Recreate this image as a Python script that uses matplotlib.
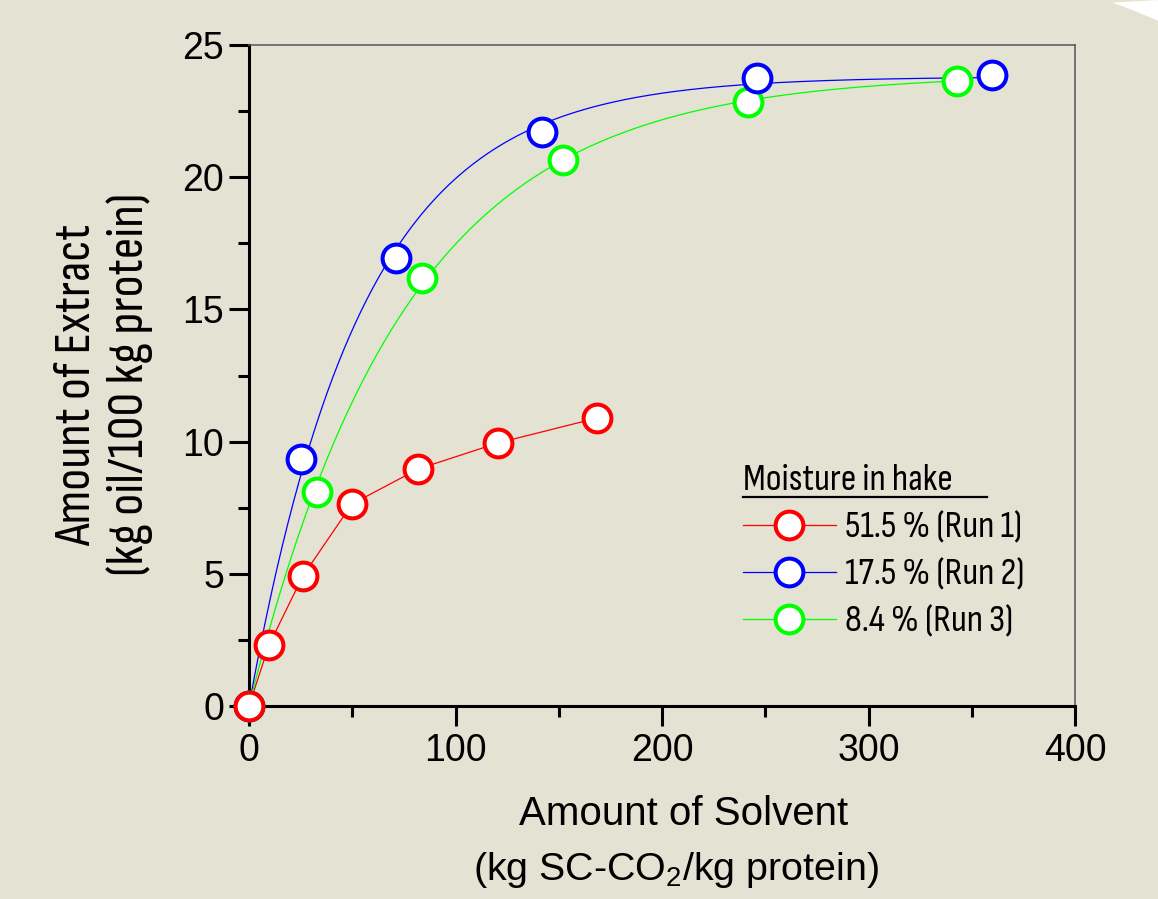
import numpy as np
import matplotlib
matplotlib.use("Agg")
import matplotlib.pyplot as plt
from matplotlib import font_manager
from matplotlib.lines import Line2D
from matplotlib.patches import Polygon

# ---------------- data ----------------
run1_x = [0, 9.7, 26.1, 49.9, 81.8, 120.6, 168.5]
run1_y = [0, 2.31, 4.92, 7.64, 8.96, 9.95, 10.89]
run2_x = [0, 25.2, 71.2, 141.9, 246.0, 359.8]
run2_y = [0, 9.34, 16.94, 21.71, 23.75, 23.86]
run3_x = [0, 32.9, 83.8, 152.1, 241.6, 342.9]
run3_y = [0, 8.09, 16.19, 20.65, 22.84, 23.64]
labels = ["51.5 % (Run 1)", "17.5 % (Run 2)", "8.4 % (Run 3)"]
colors = ["#FF0000", "#0000FF", "#00FF00"]
x_ticks = [0, 100, 200, 300, 400]
y_ticks = [0, 5, 10, 15, 20, 25]

# ---------------- fonts ----------------
names = {f.name for f in font_manager.fontManager.ttflist}
NARROW = "Liberation Sans"
for cand in ["Liberation Sans Narrow", "Arial Narrow", "Sofia Sans Condensed",
             "Roboto Condensed", "Archivo Narrow", "PT Sans Narrow"]:
    if cand in names:
        NARROW = cand
        break
REG = "Liberation Sans"
plt.rcParams["font.family"] = [REG, "DejaVu Sans"]
plt.rcParams["mathtext.default"] = "regular"

BG = "#E3E2D3"
W, H = 1158, 899
fig = plt.figure(figsize=(W / 100, H / 100), dpi=100, facecolor=BG)
renderer = fig.canvas.get_renderer()


def fx(px):
    return px / W


def fy(py):
    return 1 - py / H


def fit_size(text, family, target_px):
    t = fig.text(0, 0, text, fontsize=20, family=family)
    w = t.get_window_extent(renderer).width
    t.remove()
    return 20 * target_px / w


# white corner top right
cx, cy, R = 900.0, 600.0, 634.0
a0 = np.arctan2(cy - 0, 1113 - cx)
a1 = np.arctan2(cy - 23, 1158 - cx)
angs = np.linspace(a0, a1, 40)
pts = [(fx(cx + R * np.cos(a)), fy(cy - R * np.sin(a))) for a in angs]
pts += [(1.0, 1.0)]
fig.add_artist(Polygon(pts, closed=True, transform=fig.transFigure,
                       facecolor="white", edgecolor="none", zorder=0))

ax = fig.add_axes([fx(249), fy(706), fx(1075 - 249), (706 - 45) / H])
ax.set_facecolor(BG)
ax.set_xlim(0, 400)
ax.set_ylim(0, 25)


def fit_exp(xs, ys):
    xs = np.asarray(xs, float)
    ys = np.asarray(ys, float)
    best = None
    for k in np.linspace(0.005, 0.04, 3501):
        f = 1 - np.exp(-k * xs)
        A = np.sum(ys * f) / np.sum(f * f)
        err = np.sum((ys - A * f) ** 2)
        if best is None or err < best[0]:
            best = (err, A, k)
    return best[1], best[2]


lw = 0.9
ms = 20
mew = 2.9
ax.plot(run1_x, run1_y, color=colors[0], lw=lw, zorder=2)
for xs, ys, c in [(run2_x, run2_y, colors[1]), (run3_x, run3_y, colors[2])]:
    A, k = fit_exp(xs, ys)
    xx = np.linspace(0, max(xs), 400)
    ax.plot(xx, A * (1 - np.exp(-k * xx)), color=c, lw=lw, zorder=2)

for xs, ys, c in [(run3_x, run3_y, colors[2]), (run2_x, run2_y, colors[1]), (run1_x, run1_y, colors[0])]:
    ax.plot(xs, ys, ls="none", marker="o", ms=ms, mfc="white", mec=c, mew=mew,
            clip_on=False, zorder=4)

# spines / ticks
for s in ["left", "bottom"]:
    ax.spines[s].set_linewidth(2.2)
    ax.spines[s].set_color("black")
for s in ["top", "right"]:
    ax.spines[s].set_linewidth(1.1)
    ax.spines[s].set_color("#555555")
ax.set_xticks(x_ticks)
ax.set_yticks(y_ticks)
ax.set_xticks(np.arange(50, 400, 100), minor=True)
ax.set_yticks(np.arange(2.5, 25, 5), minor=True)
ax.tick_params(which="major", direction="out", length=14.4, width=2.2,
               labelsize=27, top=False, right=False)
ax.tick_params(which="minor", direction="out", length=8, width=2.2,
               top=False, right=False)
ax.tick_params(axis="y", which="major", pad=3.4)
ax.tick_params(axis="x", which="major", pad=5)

# axis labels
xl1 = "Amount of Solvent"
xl2 = "(kg SC-CO$_2$/kg protein)"
fig.text(fx(684), fy(825), xl1, ha="center", va="baseline",
         fontsize=fit_size(xl1, REG, 328), family=REG)
fig.text(fx(676), fy(880), xl2, ha="center", va="baseline",
         fontsize=fit_size(xl2, REG, 407), family=REG)
yl1 = "Amount of Extract"
yl2 = "(kg oil/100 kg protein)"
fig.text(fx(90), fy(385), yl1, rotation=90, rotation_mode="anchor",
         ha="center", va="baseline", fontsize=fit_size(yl1, NARROW, 322), family=NARROW)
fig.text(fx(143), fy(384), yl2, rotation=90, rotation_mode="anchor",
         ha="center", va="baseline", fontsize=fit_size(yl2, NARROW, 383), family=NARROW)

# legend (drawn by hand to match layout)
ttl = "Moisture in hake"
lsize = fit_size(ttl, NARROW, 210)
fig.text(fx(743), fy(490), ttl, ha="left", va="baseline", fontsize=lsize, family=NARROW)
fig.add_artist(Line2D([fx(743), fx(987)], [fy(497), fy(497)], color="black",
                      lw=1.6, transform=fig.transFigure))
row_y = [525, 572, 619]
for lab, c, ry in zip(labels, colors, row_y):
    fig.add_artist(Line2D([fx(743), fx(836)], [fy(ry), fy(ry)], color=c, lw=lw,
                          transform=fig.transFigure, zorder=3))
    fig.add_artist(Line2D([fx(789)], [fy(ry)], ls="none", marker="o", ms=ms,
                          mfc="white", mec=c, mew=mew,
                          transform=fig.transFigure, zorder=4))
    fig.text(fx(845), fy(ry + 13), lab, ha="left", va="baseline",
             fontsize=lsize, family=NARROW)

fig.savefig("out.png", dpi=100, facecolor=BG)
